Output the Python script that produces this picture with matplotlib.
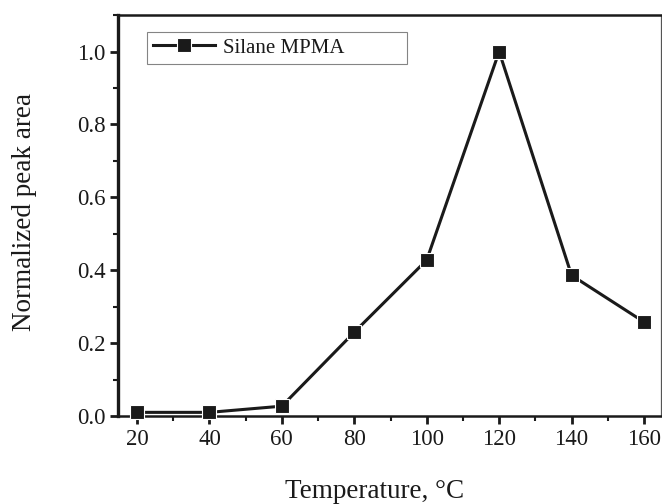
import matplotlib
matplotlib.use("Agg")
import matplotlib.pyplot as plt
from matplotlib.ticker import MultipleLocator, FormatStrFormatter

temperature = [20, 40, 60, 80, 100, 120, 140, 160]
peak_area = [0.010, 0.010, 0.027, 0.230, 0.428, 1.000, 0.386, 0.258]
series_name = "Silane MPMA"

plt.rcParams['font.family'] = ['Liberation Serif', 'DejaVu Serif']

fig = plt.figure(figsize=(6.62, 5.04), dpi=100)
ax = fig.add_axes([0.178, 0.1746, 0.8205, 0.7954])

ax.plot(temperature, peak_area, '-s', color='#1a1a1a', lw=2.2,
        markersize=10, markerfacecolor='#1a1a1a', markeredgecolor='white',
        markeredgewidth=0.8, label=series_name, clip_on=False, zorder=3)

ax.set_xlim(14.7, 164.7)
ax.set_ylim(0, 1.1)
ax.xaxis.set_major_locator(MultipleLocator(20))
ax.xaxis.set_minor_locator(MultipleLocator(10))
ax.yaxis.set_major_locator(MultipleLocator(0.2))
ax.yaxis.set_minor_locator(MultipleLocator(0.1))
ax.yaxis.set_major_formatter(FormatStrFormatter('%.1f'))

ax.tick_params(which='major', direction='out', length=6, width=2,
               labelsize=16.5, colors='#1a1a1a', pad=3)
ax.tick_params(which='minor', direction='out', length=3.5, width=1.5,
               colors='#1a1a1a')
ax.tick_params(top=False, right=False, which='both')

ax.spines['left'].set_linewidth(2.4)
ax.spines['bottom'].set_linewidth(1.8)
ax.spines['top'].set_linewidth(1.8)
ax.spines['right'].set_linewidth(0.9)
ax.spines['right'].set_color('#555555')
for s in ('left', 'bottom', 'top'):
    ax.spines[s].set_color('#1a1a1a')

ax.set_xlabel("Temperature, °C", fontsize=19.5, color='#1a1a1a')
ax.set_ylabel("Normalized peak area", fontsize=19.5, color='#1a1a1a')
ax.xaxis.set_label_coords(0.473, -0.158)
ax.yaxis.set_label_coords(-0.149, 0.51)

leg = ax.legend(loc='lower left', bbox_to_anchor=(0.053, 0.878, 0.479, 0.085),
                mode='expand', fontsize=15, frameon=True, fancybox=False,
                handlelength=3.0, handletextpad=0.35, borderpad=0.3,
                borderaxespad=0)
leg.get_frame().set_edgecolor('#666666')
leg.get_frame().set_linewidth(0.8)
for t in leg.get_texts():
    t.set_color('#1a1a1a')

fig.savefig("out.png", dpi=100)
